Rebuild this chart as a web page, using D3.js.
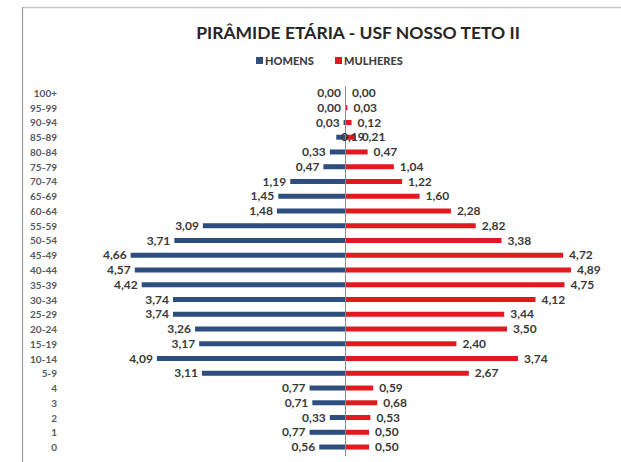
<!DOCTYPE html>
<html>
<head>
<meta charset="utf-8">
<script src="https://cdn.jsdelivr.net/npm/d3@7"></script>
<style>
  body { margin: 0; background: #fff; }
  text { font-family: Lato, "Open Sans", sans-serif; }
</style>
</head>
<body>
<div id="vis"></div>
<script>
// dados da piramide (percentuais)
const faixas = ["100+", "95-99", "90-94", "85-89", "80-84", "75-79", "70-74", "65-69", "60-64",
  "55-59", "50-54", "45-49", "40-44", "35-39", "30-34", "25-29", "20-24", "15-19", "10-14",
  "5-9", "4", "3", "2", "1", "0"];
const homens = [0.00, 0.00, 0.03, 0.19, 0.33, 0.47, 1.19, 1.45, 1.48, 3.09, 3.71, 4.66, 4.57,
  4.42, 3.74, 3.74, 3.26, 3.17, 4.09, 3.11, 0.77, 0.71, 0.33, 0.77, 0.56];
const mulheres = [0.00, 0.03, 0.12, 0.21, 0.47, 1.04, 1.22, 1.60, 2.28, 2.82, 3.38, 4.72, 4.89,
  4.75, 4.12, 3.44, 3.50, 2.40, 3.74, 2.67, 0.59, 0.68, 0.53, 0.50, 0.50];
const series = ["HOMENS", "MULHERES"];
const cores = ["#2d4e7e", "#e2191f"];

const WIDTH = 621, HEIGHT = 462;
const CENTRO = 345;

const svg = d3.select("#vis").append("svg")
  .attr("width", WIDTH).attr("height", HEIGHT);

// moldura (borda do print)
svg.append("line").attr("x1", 22).attr("x2", WIDTH).attr("y1", 7.5).attr("y2", 7.5)
  .attr("stroke", "#c8c8c8").attr("stroke-width", 1.5);
svg.append("line").attr("x1", 22.5).attr("x2", 22.5).attr("y1", 7).attr("y2", HEIGHT)
  .attr("stroke", "#9a9a9a").attr("stroke-width", 1.2);

// titulo
svg.append("text")
  .attr("x", 358).attr("y", 39)
  .attr("text-anchor", "middle")
  .style("font-size", "17.5px").style("font-weight", "bold").style("fill", "#262626")
  .text("PIRÂMIDE ETÁRIA - USF NOSSO TETO II");

// legenda
const leg = svg.append("g");
const legX = [256, 335];
series.forEach((s, i) => {
  leg.append("rect").attr("x", legX[i]).attr("y", 57).attr("width", 7).attr("height", 7)
    .attr("fill", cores[i]);
  leg.append("text").attr("x", legX[i] + 9).attr("y", 64.5)
    .style("font-size", "11px").style("font-weight", "900").style("fill", "#404040")
    .text(s);
});

const dados = faixas.map((f, i) => ({ faixa: f, h: homens[i], m: mulheres[i] }));

const x = d3.scaleLinear().domain([0, 5]).range([0, 230]);
const y = d3.scalePoint().domain(faixas).range([85.6, 454.4]).padding(0.5);
const BAR = 5;

// linha central
svg.append("line").attr("x1", CENTRO + 0.5).attr("x2", CENTRO + 0.5)
  .attr("y1", 86).attr("y2", 456)
  .attr("stroke", "#8c8c8c").attr("stroke-width", 1);

// eixo das faixas
const yAxis = svg.append("g")
  .attr("transform", "translate(57,0)")
  .call(d3.axisLeft(y).tickSize(0).tickPadding(0));
yAxis.select(".domain").remove();
yAxis.selectAll("text")
  .attr("dy", "0.35em")
  .style("font-family", "Lato, 'Open Sans', sans-serif")
  .style("font-size", "10px").style("font-weight", "bold").style("fill", "#595959");

// barras homens
svg.append("g").selectAll("rect")
  .data(dados)
  .join("rect")
  .attr("x", d => CENTRO - x(d.h))
  .attr("y", d => y(d.faixa) - BAR / 2)
  .attr("width", d => x(d.h))
  .attr("height", BAR)
  .attr("fill", cores[0]);

// barras mulheres
svg.append("g").selectAll("rect")
  .data(dados)
  .join("rect")
  .attr("x", CENTRO + 1)
  .attr("y", d => y(d.faixa) - BAR / 2)
  .attr("width", d => x(d.m))
  .attr("height", BAR)
  .attr("fill", cores[1]);

const fmt = v => v.toFixed(2).replace(".", ",");

// rotulos homens (85-89 ficou sobreposto no original)
svg.append("g").selectAll("text")
  .data(dados)
  .join("text")
  .attr("x", d => d.faixa === "85-89" ? CENTRO - 4 : CENTRO - x(d.h) - 4)
  .attr("y", d => y(d.faixa))
  .attr("dy", "0.35em")
  .attr("text-anchor", d => d.faixa === "85-89" ? "start" : "end")
  .style("font-size", "12px").style("font-weight", "bold").style("fill", "#3a3a3a")
  .text(d => fmt(d.h));

// rotulos mulheres
svg.append("g").selectAll("text")
  .data(dados)
  .join("text")
  .attr("x", d => CENTRO + x(d.m) + 7)
  .attr("y", d => y(d.faixa))
  .attr("dy", "0.35em")
  .style("font-size", "12px").style("font-weight", "bold").style("fill", "#3a3a3a")
  .text(d => fmt(d.m));
</script>
</body>
</html>
